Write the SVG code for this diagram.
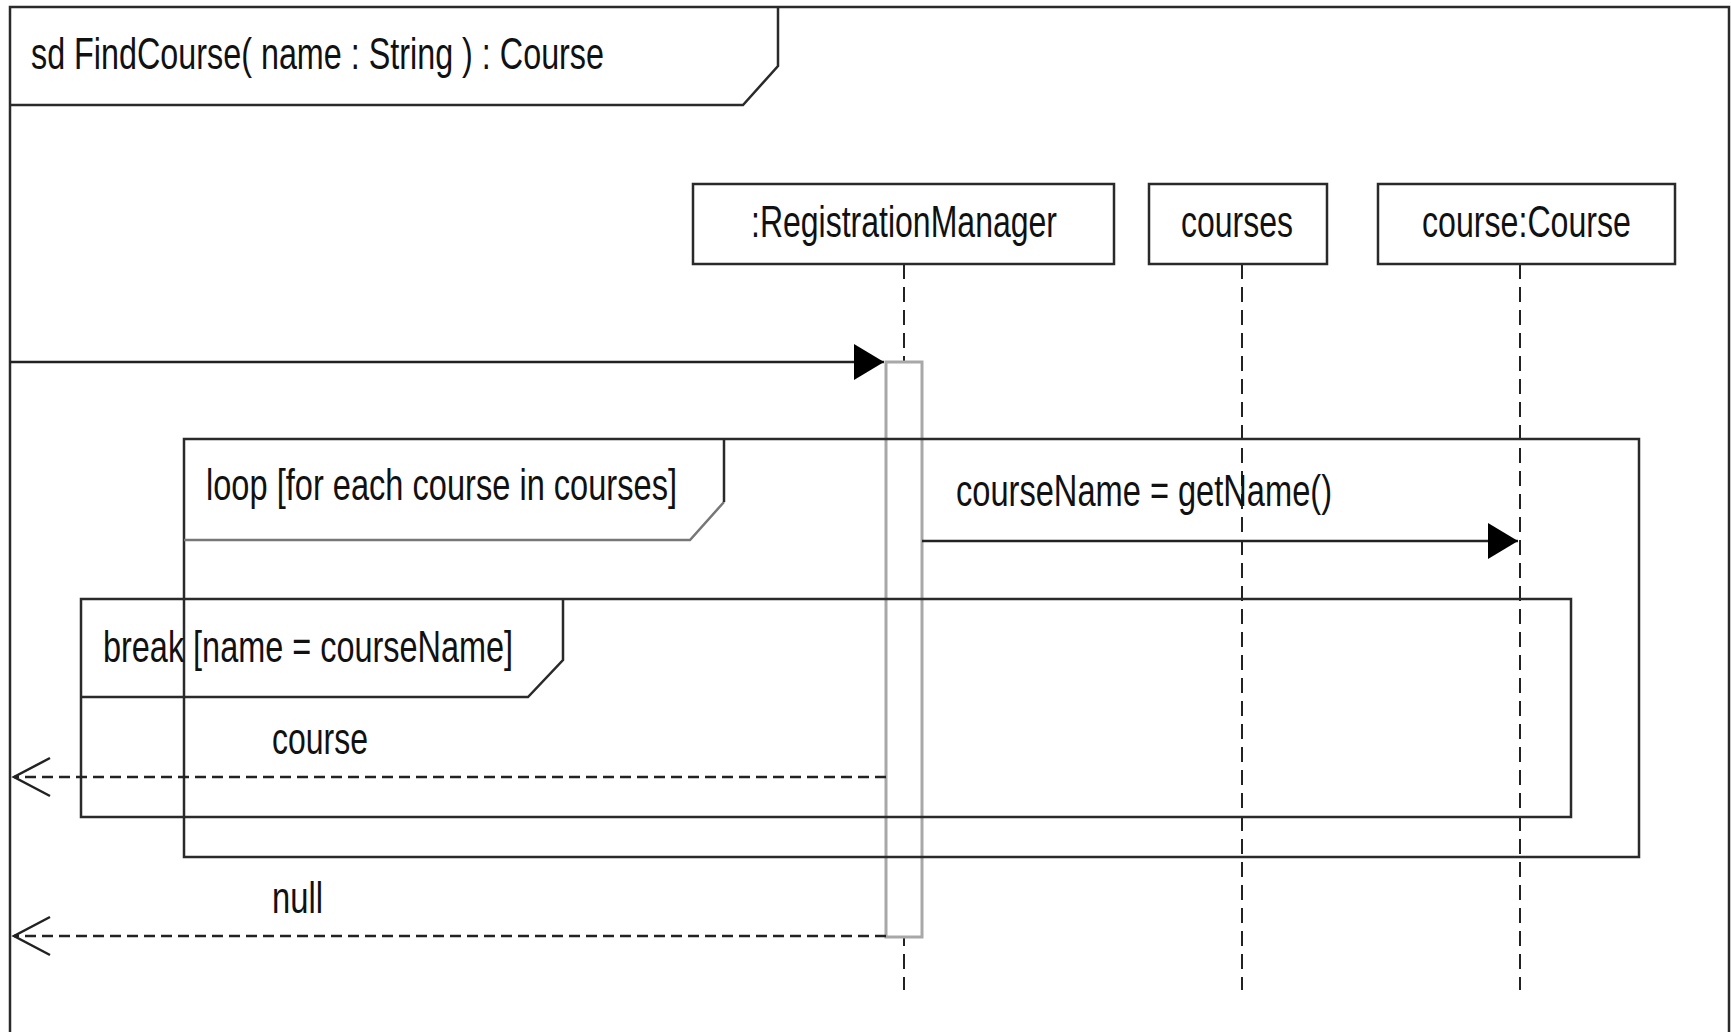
<svg xmlns="http://www.w3.org/2000/svg" width="1731" height="1032" viewBox="0 0 1731 1032">
<style>
text{font-family:"Liberation Sans",Arial,sans-serif;font-size:44px;fill:#111}
.frm{fill:none;stroke:#2a2a2a;stroke-width:2.5}
.box{fill:#fff;stroke:#2a2a2a;stroke-width:2.5}
.life{fill:none;stroke:#222;stroke-width:2;stroke-dasharray:15 8}
.msg{fill:none;stroke:#222;stroke-width:2.5}
.ret{fill:none;stroke:#222;stroke-width:2.5;stroke-dasharray:11 6}
.act{fill:#fff;stroke:#a8a8a8;stroke-width:3}
</style>
<defs>
<marker id="filled" markerUnits="userSpaceOnUse" markerWidth="34" markerHeight="40" refX="32" refY="19" orient="auto">
<path d="M2,1 L32,19 L2,37 Z" fill="#000"/>
</marker>
<marker id="open" markerUnits="userSpaceOnUse" markerWidth="42" markerHeight="44" refX="39" refY="21" orient="auto">
<path d="M3,2 L39,21 L3,40" fill="none" stroke="#222" stroke-width="2.5"/>
</marker>
</defs>
<rect width="1731" height="1032" fill="#fff"/>
<g id="frame">
<rect class="frm" x="10" y="7" width="1719" height="1040"/>
<path class="frm" d="M10,105 L743,105 L778,66 L778,7"/>
<text x="31" y="69" textLength="573" lengthAdjust="spacingAndGlyphs">sd FindCourse( name : String ) : Course</text>
</g>
<g id="lifelines">
<line class="life" x1="904" y1="264" x2="904" y2="990"/>
<line class="life" x1="1242" y1="264" x2="1242" y2="990"/>
<line class="life" x1="1520" y1="264" x2="1520" y2="990"/>
</g>
<g id="registrationManager">
<rect class="box" x="693" y="184" width="421" height="80"/>
<text x="751" y="237" textLength="306" lengthAdjust="spacingAndGlyphs">:RegistrationManager</text>
</g>
<g id="courses">
<rect class="box" x="1149" y="184" width="178" height="80"/>
<text x="1181" y="237" textLength="112" lengthAdjust="spacingAndGlyphs">courses</text>
</g>
<g id="course">
<rect class="box" x="1378" y="184" width="297" height="80"/>
<text x="1422" y="237" textLength="209" lengthAdjust="spacingAndGlyphs">course:Course</text>
</g>
<g id="activation">
<rect class="act" x="886" y="362" width="36" height="575"/>
</g>
<g id="loop">
<rect class="frm" x="184" y="439" width="1455" height="418"/>
<path fill="none" stroke="#777" stroke-width="2.5" d="M184,540 L690,540 L724,502"/>
<line class="frm" x1="724" y1="502" x2="724" y2="439"/>
<text x="206" y="500" textLength="471" lengthAdjust="spacingAndGlyphs">loop [for each course in courses]</text>
</g>
<g id="break">
<rect class="frm" x="81" y="599" width="1490" height="218"/>
<path class="frm" d="M81,697 L528,697 L563,660 L563,599"/>
<text x="103" y="662" textLength="410" lengthAdjust="spacingAndGlyphs">break [name = courseName]</text>
</g>
<g id="connectors">
<line class="msg" x1="10" y1="362" x2="884" y2="362" marker-end="url(#filled)"/>
<line class="msg" x1="922" y1="541" x2="1518" y2="541" marker-end="url(#filled)"/>
<text x="956" y="506" textLength="376" lengthAdjust="spacingAndGlyphs">courseName = getName()</text>
<line class="ret" x1="886" y1="777" x2="14" y2="777" marker-end="url(#open)"/>
<text x="272" y="754" textLength="96" lengthAdjust="spacingAndGlyphs">course</text>
<line class="ret" x1="886" y1="936" x2="14" y2="936" marker-end="url(#open)"/>
<text x="272" y="913" textLength="51" lengthAdjust="spacingAndGlyphs">null</text>
</g>
</svg>
